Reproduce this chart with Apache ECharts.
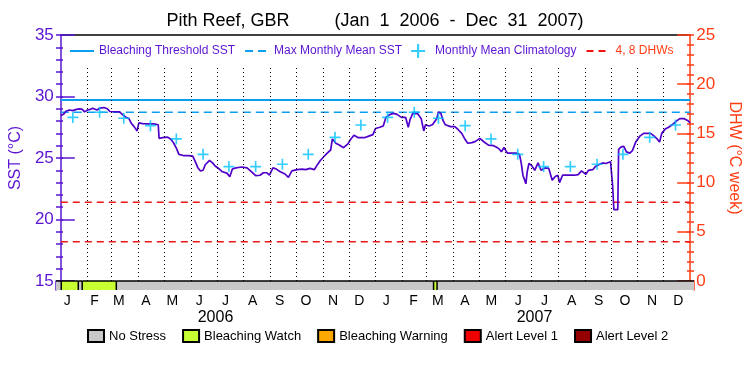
<!DOCTYPE html>
<html><head><meta charset="utf-8">
<script src="https://cdn.jsdelivr.net/npm/echarts@6/dist/echarts.min.js"></script>
<style>html,body{margin:0;padding:0;background:#fff}#c{width:750px;height:375px}</style>
</head><body><div id="c"></div>
<script>
// ---- data (days since Jan 1 2006) ----
const sstDays = [0,3,6,10,14,18,22,25,27.5,31,34,37,39,42,45,50,54,57,62,68,72,76,79,82,85,88.5,90.5,95,101,108,113,114,118,124,128,131,134,137,142,148,153,156,159,162,165,167.5,172.5,176,179,183,187,193,196,199,203,210,216,221,226,231,235,239,242,246,250,254,260,264,268,274,280,284,289,294,298,301,305,309,313,315,319,323,328,333,336,340,345,352,358,362,365,370,374,377,382,386,390,395,400,403,405,408,414,418,421,423,427,431,436,438,441,443,446,452,457,461,465,469,472,477,481,486,491,496,502,506,509,511,514,518,528,532,534,536,538,539.4,541,543,546,549.7,553.5,557,562,566,570,573.5,576.5,578.4,582,590,596,600,604,609,612,617,620,625,628.6,632,634,637.6,639,640,641.5,646,647,650,653,656,660,663,667,672,676,684,688,691,694.5,697,701,705,709,714,718,723,727,730];
const sstValues = [28.45,28.55,28.8,28.9,28.85,28.95,29.0,28.95,28.75,28.9,28.95,29.05,29.15,28.9,29.05,29.1,29.0,28.78,28.76,28.75,28.5,28.3,28.2,27.8,27.55,27.2,27.85,27.8,27.78,27.78,27.7,26.6,26.65,26.7,26.5,26.2,25.8,25.3,25.2,25.2,25.15,24.7,24.2,23.94,24.0,24.45,24.8,24.6,24.35,24.15,23.9,23.75,23.48,24.1,24.2,24.27,24.2,23.9,23.56,23.6,23.8,23.8,23.6,24.2,24.1,23.9,23.7,23.43,23.95,24.05,24.1,24.05,24.16,24.05,24.5,24.8,25.1,25.4,25.65,26.55,26.2,26.05,25.84,26.15,26.5,26.85,26.65,26.65,26.8,26.9,27.4,27.5,27.6,28.3,28.55,28.63,28.55,28.3,28.3,27.5,28.1,28.6,28.6,28.2,27.2,27.7,27.6,27.7,28.2,28.75,28.6,28.1,27.7,27.55,27.55,27.3,27.0,26.5,26.2,26.25,26.35,26.6,26.3,26.05,26.0,25.85,25.7,25.5,25.85,25.4,25.4,25.3,24.6,23.6,23.6,22.9,23.9,24.55,24.4,24.0,24.6,24.0,24.2,24.15,23.2,23.5,23.6,23.0,23.6,23.6,23.6,23.65,23.95,23.67,24.0,24.05,24.3,24.5,24.6,24.55,24.4,24.7,24.6,22.8,20.8,20.8,25.7,25.9,25.95,25.5,25.4,25.6,26.33,26.8,27.0,27.0,26.8,26.6,26.3,27.0,27.35,27.5,27.7,28.0,28.2,28.2,28.05,27.85];

const climDays = [14,45,73,104,134,165,195,226,257,287,318,348,379,410,438,469,499,530,560,591,622,652,683,713];
const climValues = [28.3,28.72,28.23,27.63,26.55,25.3,24.3,24.3,24.49,25.3,26.68,27.68,28.3,28.72,28.23,27.63,26.55,25.3,24.3,24.3,24.49,25.3,26.68,27.68];

const thresholdSST = 29.72;
const mmmSST = 28.72;
const dhwLevels = [4, 8];

const monthStarts = [31,59,90,120,151,181,212,243,273,304,334,365,396,424,455,485,516,546,577,608,638,669,699];
const monthLabelDays = [13,44,72,103,133,164,194,225,256,286,317,347,378,409,437,468,498,529,559,590,621,651,682,712];
const monthLabels = ['J','F','M','A','M','J','J','A','S','O','N','D','J','F','M','A','M','J','J','A','S','O','N','D'];
const yearLabelDays = [182.5, 547.5];
const yearLabels = ['2006', '2007'];

const stressStart = [0, 6, 25.5, 30, 69, 432, 436];
const stressEnd   = [6, 25.5, 30, 69, 432, 436, 730];
const stressLevel = [0, 1, 0, 1, 0, 1, 0];
const stressNames = ['No Stress','Bleaching Watch','Bleaching Warning','Alert Level 1','Alert Level 2'];
const stressColors = ['#c8c8c8','#c8ff32','#faa800','#f00000','#960000'];

// ---- styles ----
const PURPLE = '#5a14d2';
const LINEPURPLE = '#5000c8';
const ORANGE = '#ff3c14';
const CYAN = '#0a9ef0';
const CROSS = '#00c0ff';
const RED = '#f01414';
const FONT = 'Liberation Sans';

const chart = echarts.init(document.getElementById('c'), null, {renderer: 'canvas'});

function line(color, show) {
  return {show: show, onZero: false, lineStyle: {color: color, width: 1.5}};
}
function tickAxis(grid, pos, min, max, interval, len, color) {
  return {gridIndex: grid, type: 'value', position: pos, min: min, max: max, interval: interval,
    axisLine: line(color, false), axisLabel: {show: false}, splitLine: {show: false},
    axisTick: {show: true, inside: true, length: len, lineStyle: {color: color, width: 1.5}}};
}

const noSymbol = {opacity: 0};

const option = {
  animation: false,
  backgroundColor: '#fff',
  textStyle: {fontFamily: FONT},
  title: {
    text: 'Pith Reef, GBR         (Jan  1  2006  -  Dec  31  2007)',
    left: 'center', top: 12, padding: 0,
    textStyle: {fontFamily: FONT, fontSize: 18, fontWeight: 'normal', color: '#000'}
  },
  legend: [{
    left: 69, top: 44, itemWidth: 24, itemHeight: 14, itemGap: 9, padding: 0,
    textStyle: {fontFamily: FONT, fontSize: 12, color: PURPLE},
    data: [
      {name: 'Bleaching Threshold SST', itemStyle: noSymbol},
      {name: 'Max Monthly Mean SST', itemStyle: noSymbol},
      {name: 'Monthly Mean Climatology'},
      {name: '4, 8 DHWs', itemStyle: noSymbol, textStyle: {color: ORANGE}}
    ]
  }, {
    left: 87, top: 329, itemWidth: 16, itemHeight: 12, itemGap: 16, padding: 0,
    icon: 'rect',
    textStyle: {fontFamily: FONT, fontSize: 13, color: '#000'},
    data: stressNames
  }],
  grid: [
    {left: 56, right: 56, top: 35, height: 246},
    {left: 56, right: 56, top: 281, height: 9},
    {left: 56, right: 56, top: 35, height: 246}
  ],
  xAxis: [
    {gridIndex: 0, type: 'value', min: 0, max: 730, position: 'bottom',
      axisLine: line('#000', false), axisTick: {show: false}, axisLabel: {show: false}, splitLine: {show: false}},
    {gridIndex: 1, type: 'value', min: 0, max: 730, position: 'bottom',
      axisLine: line('#000', false), axisTick: {show: false}, splitLine: {show: false},
      axisLabel: {customValues: monthLabelDays, margin: 4, fontSize: 14, color: '#000', fontFamily: FONT,
        formatter: v => monthLabels[monthLabelDays.indexOf(v)]}},
    {gridIndex: 1, type: 'value', min: 0, max: 730, position: 'bottom', offset: 16,
      axisLine: line('#000', false), axisTick: {show: false}, splitLine: {show: false},
      axisLabel: {customValues: yearLabelDays, margin: 4, fontSize: 16, color: '#000', fontFamily: FONT,
        formatter: v => yearLabels[yearLabelDays.indexOf(v)]}},
    {gridIndex: 0, type: 'value', min: 0, max: 730, position: 'top',
      axisLine: line('#000', true),
      axisTick: {show: false}, axisLabel: {show: false}, splitLine: {show: false}},
    {gridIndex: 2, type: 'value', min: 0, max: 730, position: 'bottom',
      axisLine: line('#000', false), axisTick: {show: false}, axisLabel: {show: false}, splitLine: {show: false}}
  ],
  yAxis: [
    {gridIndex: 0, type: 'value', position: 'left', min: 15, max: 35, interval: 5,
      name: 'SST (°C)', nameLocation: 'middle', nameRotate: 90, nameGap: 30,
      nameTextStyle: {color: PURPLE, fontSize: 16, fontFamily: FONT},
      axisLine: line(PURPLE, true),
      axisTick: {show: true, inside: true, length: 14, lineStyle: {color: PURPLE, width: 1.5}},
      axisLabel: {color: PURPLE, fontSize: 17, margin: 7, fontFamily: FONT},
      splitLine: {show: false}},
    {gridIndex: 0, type: 'value', position: 'right', min: 0, max: 25, interval: 5,
      name: 'DHW (°C week)', nameLocation: 'middle', nameRotate: -90, nameGap: 26,
      nameTextStyle: {color: ORANGE, fontSize: 16, fontFamily: FONT},
      axisLine: line(ORANGE, true),
      axisTick: {show: true, inside: true, length: 13, lineStyle: {color: ORANGE, width: 1.5}},
      axisLabel: {color: ORANGE, fontSize: 17, margin: 6, fontFamily: FONT},
      splitLine: {show: false}},
    {gridIndex: 1, type: 'value', position: 'left', min: 0, max: 1,
      axisLine: line(PURPLE, true),
      axisTick: {show: false}, axisLabel: {show: false}, splitLine: {show: false}},
    {gridIndex: 1, type: 'value', position: 'right', min: 0, max: 1,
      axisLine: line(ORANGE, true),
      axisTick: {show: false}, axisLabel: {show: false}, splitLine: {show: false}},
    tickAxis(2, 'left', 15, 35, 1, 7, PURPLE),
    tickAxis(2, 'right', 0, 25, 1, 7, ORANGE)
  ],
  series: [
    {
      name: 'Bleaching Threshold SST', type: 'line', xAxisIndex: 0, yAxisIndex: 0,
      data: [[0, thresholdSST], [730, thresholdSST]], symbol: 'none', silent: true,
      lineStyle: {color: CYAN, width: 2}, itemStyle: {color: CYAN}, z: 3,
      markLine: {
        silent: true, symbol: ['none', 'none'], label: {show: false},
        lineStyle: {color: '#000', type: [1, 3], width: 1},
        emphasis: {disabled: true},
        data: monthStarts.map(d => [{coord: [d, 15]}, {coord: [d, 32.55]}])
      }
    },
    {
      name: 'Max Monthly Mean SST', type: 'line', xAxisIndex: 0, yAxisIndex: 0,
      data: [[0, mmmSST], [730, mmmSST]], symbol: 'none', silent: true,
      lineStyle: {color: CYAN, width: 1.5, type: [8, 5]}, itemStyle: {color: CYAN}, z: 3
    },
    {
      name: '4, 8 DHWs', type: 'line', xAxisIndex: 0, yAxisIndex: 1,
      data: [[0, dhwLevels[0]], [730, dhwLevels[0]], [730, '-'], [0, dhwLevels[1]], [730, dhwLevels[1]]],
      symbol: 'none', silent: true, connectNulls: false,
      lineStyle: {color: RED, width: 1.5, type: [7, 5]}, itemStyle: {color: RED}, z: 3
    },
    {
      name: 'SST', type: 'line', xAxisIndex: 0, yAxisIndex: 0,
      data: sstDays.map((d, i) => [d, sstValues[i]]), symbol: 'none', silent: true,
      lineStyle: {color: LINEPURPLE, width: 1.7}, z: 4
    },
    {
      name: 'Monthly Mean Climatology', type: 'scatter', xAxisIndex: 0, yAxisIndex: 0,
      data: climDays.map((d, i) => [d, climValues[i]]),
      symbol: 'path://M4.25,0H5.75V10H4.25ZM0,4.25H10V5.75H0Z', symbolSize: 11,
      itemStyle: {color: CROSS}, silent: true, z: 5
    },
    {
      name: 'Stress', type: 'custom', xAxisIndex: 1, yAxisIndex: 2, silent: true,
      data: stressStart.map((s, i) => [s, stressEnd[i], stressLevel[i]]),
      encode: {x: [0, 1]},
      renderItem: function (params, api) {
        const a = api.coord([api.value(0), 1]);
        const b = api.coord([api.value(1), 0]);
        const lvl = api.value(2);
        const children = [
          {type: 'rect', shape: {x: a[0], y: a[1], width: b[0] - a[0], height: b[1] - a[1]},
            style: {fill: stressColors[lvl]}},
          {type: 'line', shape: {x1: a[0], y1: a[1], x2: b[0], y2: a[1]},
            style: {stroke: '#000', lineWidth: 1.5}}
        ];
        if (api.value(0) > 0) {
          children.push({type: 'line', shape: {x1: a[0], y1: a[1], x2: a[0], y2: b[1]},
            style: {stroke: '#000', lineWidth: 1.5}});
        }
        return {type: 'group', children: children};
      },
      z: 3
    }
  ].concat(stressNames.map((n, i) => ({
    name: n, type: 'bar', xAxisIndex: 1, yAxisIndex: 2, data: [],
    itemStyle: {color: stressColors[i], borderColor: '#000', borderWidth: 1}
  })))
};
chart.setOption(option);
</script>
</body></html>
